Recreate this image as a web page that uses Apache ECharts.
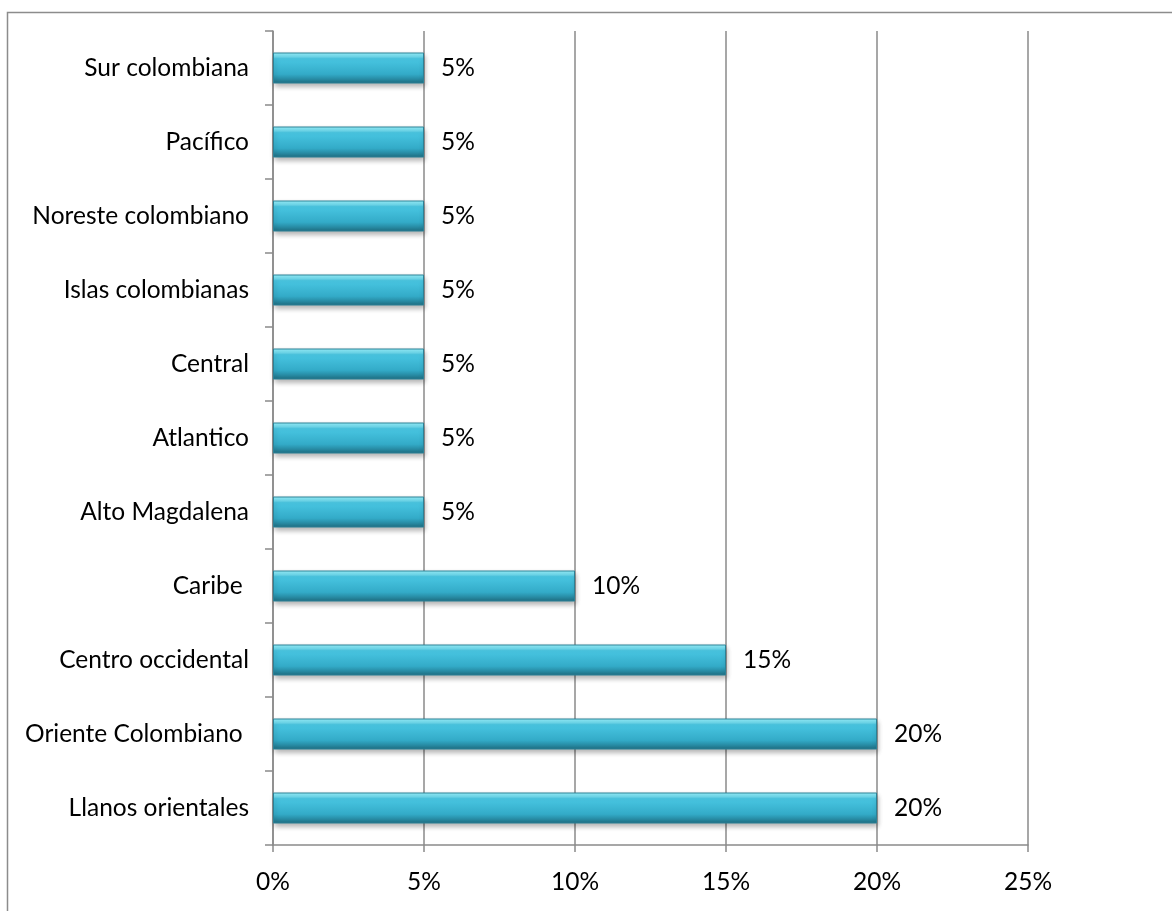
<!DOCTYPE html>
<html>
<head>
<meta charset="utf-8">
<style>html,body{margin:0;padding:0;background:#fff}#c{width:1172px;height:911px}</style>
<script src="https://cdn.jsdelivr.net/npm/echarts@6/dist/echarts.min.js"></script>
</head>
<body>
<div id="c"></div>
<script>
const categories = ['Llanos orientales', 'Oriente Colombiano ', 'Centro occidental', 'Caribe ', 'Alto Magdalena', 'Atlantico', 'Central', 'Islas colombianas', 'Noreste colombiano', 'Pacífico', 'Sur colombiana'];
const values = [20, 20, 15, 10, 5, 5, 5, 5, 5, 5, 5];
const xTicks = [0, 5, 10, 15, 20, 25];

const chart = echarts.init(document.getElementById('c'));
const font = 'Lato, "Open Sans", sans-serif';
const fs = 24.5;
const gray = '#8a8a8a';
chart.setOption({
  animation: false,
  graphic: [{
    type: 'rect', shape: {x: 7.5, y: 12.5, width: 1200, height: 960},
    style: {fill: 'none', stroke: '#8c8c8c', lineWidth: 1.5}, silent: true, z: -10
  }],
  grid: {left: 273, top: 31, right: 144, bottom: 66},
  xAxis: {
    type: 'value', min: xTicks[0], max: xTicks[xTicks.length - 1], interval: 5,
    axisLine: {show: true, lineStyle: {color: gray, width: 1.5}},
    axisTick: {show: true, length: 7, lineStyle: {color: gray, width: 1.5}},
    axisLabel: {margin: 25, fontSize: fs, color: '#000', fontFamily: font, formatter: v => v + '%'},
    splitLine: {show: true, lineStyle: {color: gray, width: 1.5}}
  },
  yAxis: {
    type: 'category', data: categories,
    axisLine: {show: true, lineStyle: {color: gray, width: 1.5}},
    axisTick: {show: true, length: 8, lineStyle: {color: gray, width: 1.5}},
    axisLabel: {margin: 24, fontSize: fs, color: '#000', fontFamily: font}
  },
  series: [{
    type: 'bar', data: values, barWidth: 31,
    itemStyle: {
      color: new echarts.graphic.LinearGradient(0, 0, 0, 1, [
        {offset: 0, color: '#9af2fd'},
        {offset: 0.14, color: '#6fdcf0'},
        {offset: 0.2, color: '#49c6e2'},
        {offset: 0.7, color: '#33abc8'},
        {offset: 0.82, color: '#2a93ad'},
        {offset: 1, color: '#1f6d80'}
      ]),
      borderColor: '#2b8196', borderWidth: 1,
      shadowColor: 'rgba(0,0,0,0.3)', shadowBlur: 5, shadowOffsetY: 3, shadowOffsetX: 1
    },
    label: {show: true, position: 'right', distance: 17, fontSize: fs, color: '#000', fontFamily: font, formatter: p => p.value + '%'}
  }]
});
</script>
</body>
</html>
